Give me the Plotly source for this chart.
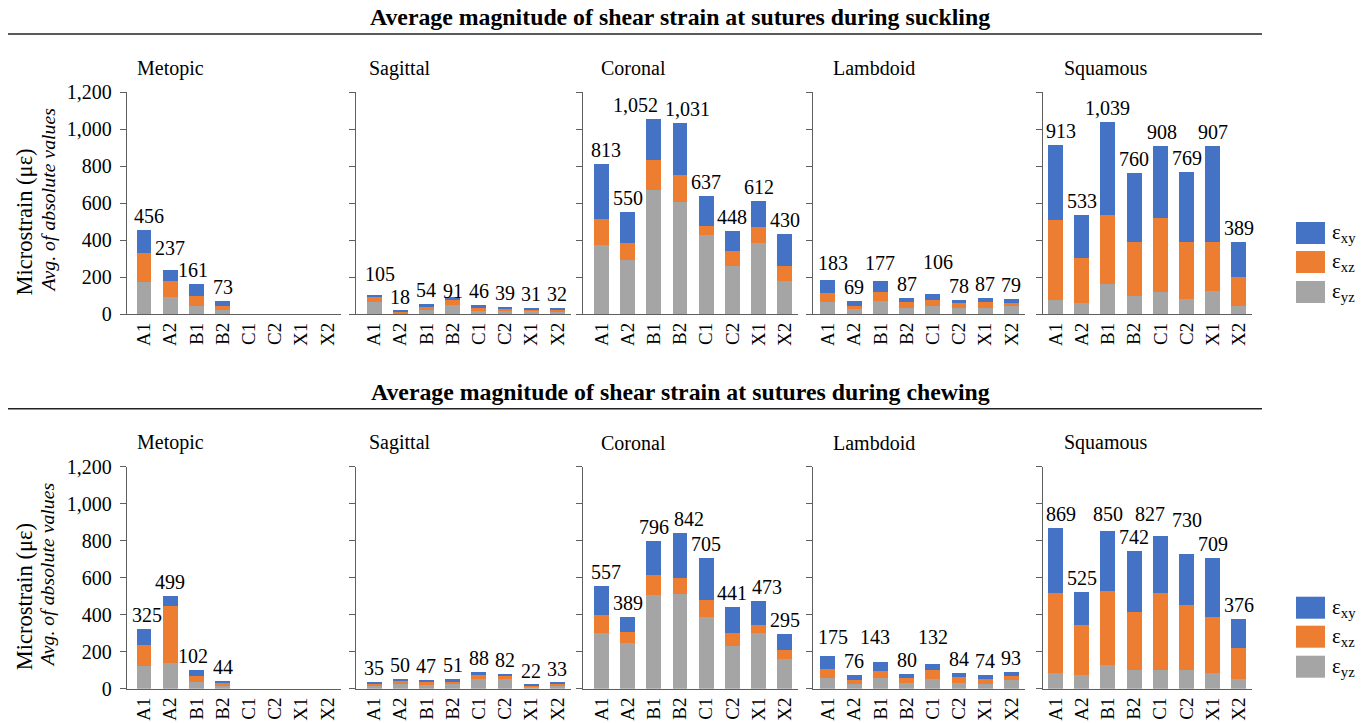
import plotly.graph_objects as go

W, H = 1369, 723

categories = ["A1", "A2", "B1", "B2", "C1", "C2", "X1", "X2"]
sutures = ["Metopic", "Sagittal", "Coronal", "Lambdoid", "Squamous"]
row_titles = ["Average magnitude of shear strain at sutures during suckling",
              "Average magnitude of shear strain at sutures during chewing"]
y_ticks = [0, 200, 400, 600, 800, 1000, 1200]

# ---- Suckling: eps_yz (gray), eps_xz (orange), eps_xy (blue) ----
suck_metopic_yz = [173, 94, 45, 20, None, None, None, None]
suck_metopic_xz = [159, 85, 52, 25, None, None, None, None]
suck_metopic_xy = [124, 58, 64, 28, None, None, None, None]

suck_sagittal_yz = [66, 5, 21, 50, 21, 18, 18, 16]
suck_sagittal_xz = [27, 8, 16, 25, 9, 12, 7, 9]
suck_sagittal_xy = [12, 5, 17, 16, 16, 9, 6, 7]

suck_coronal_yz = [373, 293, 668, 603, 428, 259, 382, 180]
suck_coronal_xz = [140, 90, 165, 151, 47, 83, 91, 81]
suck_coronal_xy = [300, 167, 219, 277, 162, 106, 139, 169]

suck_lambdoid_yz = [66, 29, 71, 34, 45, 30, 30, 43]
suck_lambdoid_xz = [50, 16, 50, 29, 32, 31, 36, 16]
suck_lambdoid_xy = [67, 24, 56, 24, 29, 17, 21, 20]

suck_squamous_yz = [77, 59, 164, 99, 119, 83, 122, 43]
suck_squamous_xz = [432, 243, 369, 292, 401, 308, 269, 159]
suck_squamous_xy = [404, 231, 506, 369, 388, 378, 516, 187]

# ---- Chewing ----
chew_metopic_yz = [123, 139, 36, 16, None, None, None, None]
chew_metopic_xz = [113, 308, 31, 13, None, None, None, None]
chew_metopic_xy = [89, 52, 35, 15, None, None, None, None]

chew_sagittal_yz = [14, 27, 20, 23, 52, 54, 11, 20]
chew_sagittal_xz = [15, 18, 16, 18, 20, 20, 7, 9]
chew_sagittal_xy = [6, 5, 11, 10, 16, 8, 4, 4]

chew_coronal_yz = [301, 247, 506, 511, 385, 232, 301, 160]
chew_coronal_xz = [95, 59, 111, 90, 92, 69, 45, 51]
chew_coronal_xy = [161, 83, 179, 241, 228, 140, 127, 84]

chew_lambdoid_yz = [56, 27, 56, 32, 52, 29, 23, 47]
chew_lambdoid_xz = [48, 20, 39, 26, 47, 34, 27, 23]
chew_lambdoid_xy = [71, 29, 48, 22, 33, 21, 24, 23]

chew_squamous_yz = [83, 72, 130, 101, 101, 101, 83, 52]
chew_squamous_xz = [435, 272, 396, 313, 417, 354, 304, 169]
chew_squamous_xy = [351, 181, 324, 328, 309, 275, 322, 155]

data = [
    [(suck_metopic_yz, suck_metopic_xz, suck_metopic_xy),
     (suck_sagittal_yz, suck_sagittal_xz, suck_sagittal_xy),
     (suck_coronal_yz, suck_coronal_xz, suck_coronal_xy),
     (suck_lambdoid_yz, suck_lambdoid_xz, suck_lambdoid_xy),
     (suck_squamous_yz, suck_squamous_xz, suck_squamous_xy)],
    [(chew_metopic_yz, chew_metopic_xz, chew_metopic_xy),
     (chew_sagittal_yz, chew_sagittal_xz, chew_sagittal_xy),
     (chew_coronal_yz, chew_coronal_xz, chew_coronal_xy),
     (chew_lambdoid_yz, chew_lambdoid_xz, chew_lambdoid_xy),
     (chew_squamous_yz, chew_squamous_xz, chew_squamous_xy)],
]

series_names = ["ε<sub>yz</sub>", "ε<sub>xz</sub>", "ε<sub>xy</sub>"]
colors = ["#A5A5A5", "#ED7D31", "#4472C4"]

# ---- layout geometry (pixels) ----
FONT = "Liberation Serif"
AX = "#5f5f5f"
panel_x = [(127, 340.5, -0.65), (356, 570.5, -0.69), (583, 798, -0.70),
           (813, 1024.5, -0.57), (1043, 1252, -0.48)]
title_x = [135, 367, 599, 831, 1062]
row_y = [(92, 314), (466.7, 688.7)]
row_dy = [0, 374.7]

# label nudges (px) to mimic where the reference placed some total labels
label_dy = {(0, 0, 1): 8, (0, 1, 0): 7, (0, 1, 3): -8, (0, 3, 0): 3, (0, 3, 2): 4,
            (0, 3, 4): 18, (1, 3, 0): 5, (1, 3, 2): 11, (1, 3, 4): 13,
            (1, 4, 2): 3, (1, 4, 4): 8, (1, 4, 5): 20}
label_dx = {(0, 0, 0): 5, (0, 0, 2): -3, (0, 1, 0): 6, (0, 2, 0): 5, (0, 2, 2): -18,
            (0, 2, 3): 7, (0, 3, 0): 5, (0, 3, 4): 5, (0, 4, 0): 5, (0, 4, 4): 2,
            (1, 0, 0): 3, (1, 0, 2): -3, (1, 2, 0): 5, (1, 2, 3): 9, (1, 2, 6): 8,
            (1, 3, 0): 5, (1, 3, 2): -5, (1, 4, 0): 5, (1, 4, 4): -10}


def px(x):
    return x / W


def py(y):
    return (H - y) / H


fig = go.Figure()
layout = dict(width=W, height=H, autosize=False, template="none",
              margin=dict(l=0, r=0, t=0, b=0, pad=0, autoexpand=False),
              paper_bgcolor="white", plot_bgcolor="white",
              barmode="stack", bargap=0.43, showlegend=False,
              font=dict(family=FONT, size=20, color="black"))
annotations = []
shapes = []

k = 0
for r in range(2):
    y0, y1 = row_y[r]
    dy = row_dy[r]
    for p in range(5):
        k += 1
        xa = "x" if k == 1 else f"x{k}"
        ya = "y" if k == 1 else f"y{k}"
        xl, xr, lo = panel_x[p]
        layout["xaxis" if k == 1 else f"xaxis{k}"] = dict(
            domain=[px(xl), px(xr)], anchor=ya, range=[lo, 7.5], automargin=False,
            type="category", categoryorder="array", categoryarray=categories,
            showline=True, linecolor=AX, linewidth=1.3, ticks="",
            tickangle=-90, tickfont=dict(family=FONT, size=19, color="black"),
            showgrid=False, zeroline=False, fixedrange=True)
        layout["yaxis" if k == 1 else f"yaxis{k}"] = dict(
            domain=[py(y1), py(y0)], anchor=xa, range=[0, 1200], automargin=False,
            tickvals=y_ticks, tickformat=",", showticklabels=(p == 0),
            ticks="outside", ticklen=6, tickcolor=AX, tickwidth=1.3,
            showline=True, linecolor=AX, linewidth=1.3, showgrid=False,
            zeroline=False, ticklabelstandoff=4,
            tickfont=dict(family=FONT, size=20, color="black"), fixedrange=True)
        comps = data[r][p]
        for s in range(3):
            fig.add_trace(go.Bar(x=categories, y=comps[s], name=series_names[s],
                                 marker=dict(color=colors[s], line=dict(width=0)),
                                 xaxis=xa, yaxis=ya, hoverinfo="x+y+name"))
        for i, c in enumerate(categories):
            vals = [comps[s][i] for s in range(3)]
            if vals[0] is None:
                continue
            tot = sum(vals)
            annotations.append(dict(
                x=c, y=tot, xref=xa, yref=ya, text=f"{tot:,}", showarrow=False,
                xanchor="center", yanchor="middle",
                xshift=label_dx.get((r, p, i), 0),
                yshift=14 + label_dy.get((r, p, i), 0),
                font=dict(family=FONT, size=20, color="black")))
        # panel title
        annotations.append(dict(
            x=px(title_x[p]), y=py(68 + dy), xref="paper", yref="paper",
            text=sutures[p], showarrow=False, xanchor="left", yanchor="middle",
            font=dict(family=FONT, size=20, color="black")))

    # row title and rule
    annotations.append(dict(
        x=px(680), y=py(17 + dy), xref="paper", yref="paper", text=f"<b>{row_titles[r]}</b>",
        showarrow=False, xanchor="center", yanchor="middle",
        font=dict(family=FONT, size=23.8, color="black")))
    shapes.append(dict(type="line", xref="paper", yref="paper",
                       x0=px(8), x1=px(1262), y0=py(34 + dy), y1=py(34 + dy),
                       line=dict(color="#222", width=1.5)))
    # y axis title (two lines)
    annotations.append(dict(
        x=px(24), y=py(298 + dy), xref="paper", yref="paper", text="Microstrain (με)",
        textangle=-90, showarrow=False, xanchor="center", yanchor="bottom",
        font=dict(family=FONT, size=22.5, color="black")))
    annotations.append(dict(
        x=px(47), y=py(294 + dy), xref="paper", yref="paper",
        text="<i>Avg. of absolute values</i>",
        textangle=-90, showarrow=False, xanchor="center", yanchor="bottom",
        font=dict(family=FONT, size=19.8, color="black")))
    # legend (xy, xz, yz from top)
    leg_top = [222 + dy, 251 + dy, 281 + dy]
    for j, s in enumerate([2, 1, 0]):
        shapes.append(dict(type="rect", xref="paper", yref="paper",
                           x0=px(1296), x1=px(1325), y0=py(leg_top[j]), y1=py(leg_top[j] + 22),
                           fillcolor=colors[s], line=dict(width=0)))
        annotations.append(dict(
            x=px(1330), y=py(leg_top[j] + 11), xref="paper", yref="paper",
            text=series_names[s], showarrow=False, xanchor="left", yanchor="middle",
            font=dict(family=FONT, size=21, color="black")))

layout["annotations"] = annotations
layout["shapes"] = shapes
fig.update_layout(**layout)
fig.write_html("out.html")
